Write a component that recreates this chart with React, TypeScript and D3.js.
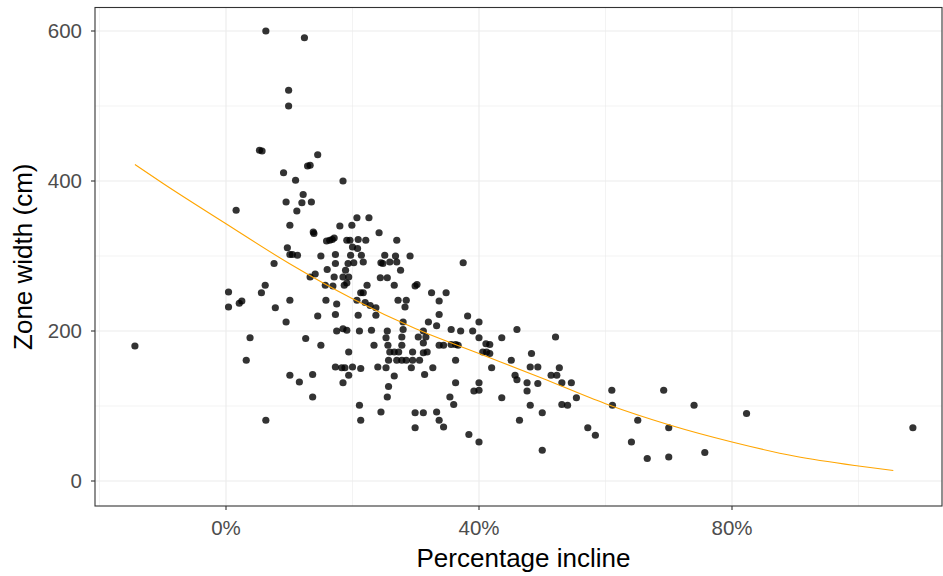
import React, { useEffect, useRef } from "react";
import * as d3 from "d3";

// Percentage incline (%) and zone width (cm)
const incline: number[] = [
  6.3, 12.4, 9.9, 9.9, 5.3, 5.7, 14.5, 12.9, 13.3, 9.1, 11.0, 12.2, 9.5, 12.0, 13.5, 11.2, 1.6, 10.1, 13.8, 13.9,
  15.9, 16.4, 16.8, 17.1, 18.0, 9.7, 18.5, 19.9, 20.7, 22.6, 24.2, 19.1, 19.6, 20.9, 22.1, 27.0, 10.1, 10.5, 11.3, 20.0,
  20.8, 19.7, 21.4, 15.0, 17.3, 20.2, 21.7, 25.1, 24.5, 24.8, 25.9, 27.0, 7.6, 17.3, 19.3, 16.0, 18.9, 13.3, 14.1, 17.1,
  18.5, 19.4, 24.4, 25.5, 15.7, 16.9, 18.7, 19.1, 22.3, 26.6, 6.2, 5.6, 0.4, 0.4, 2.1, 2.5, 10.1, 7.8, 15.8, 17.5,
  21.3, 21.7, 20.7, 22.0, 22.8, 23.7, 27.2, 14.5, 17.3, 20.9, 23.7, 9.5, 17.5, 18.5, 19.1, 21.1, 23.0, 25.5, 3.8, 12.6,
  15.0, 19.4, 23.4, 25.3, 25.6, 25.9, 26.6, 27.3, 3.2, 17.3, 18.3, 18.8, 20.0, 21.3, 24.0, 25.3, 25.7, 27.0, 10.1, 11.6,
  13.7, 19.4, 18.5, 26.6, 25.7, 25.5, 13.7, 21.1, 24.5, 21.3, 6.3, 26.8, 29.1, 27.6, 37.5, 29.9, 30.2, 32.5, 34.8, 28.5,
  33.7, 28.3, 33.7, 38.2, 28.0, 32.0, 40.0, 33.3, 28.0, 30.4, 31.2, 31.6, 35.6, 37.1, 39.0, 46.0, 52.1, 27.8, 27.8, 31.2,
  33.7, 34.4, 35.6, 36.3, 36.7, 40.0, 41.1, 41.7, 43.6, 29.5, 31.2, 31.8, 40.6, 41.2, 41.7, 48.3, 27.8, 28.5, 29.5, 30.6,
  36.3, 45.1, 29.3, 32.7, 42.0, 48.1, 49.3, 52.7, 31.4, 45.7, 46.0, 51.4, 52.3, 36.3, 40.0, 39.2, 40.0, 47.6, 47.6, 49.3,
  53.1, 54.6, 35.4, 36.0, 43.6, 48.1, 53.1, 54.0, 29.9, 31.2, 33.3, 33.7, 34.4, 29.9, 50.0, 46.4, 38.4, 40.0, 50.0, 55.4,
  61.0, 61.1, 57.2, 58.4, 65.1, 64.1, 66.6, 69.2, 70.0, 70.0, 74.0, 75.7, 82.3, 108.6, -14.4,
];
const zoneWidth: number[] = [
  600, 591, 521, 500, 441, 440, 435, 420, 421, 411, 401, 382, 372, 371, 372, 360, 361, 341, 332, 330,
  320, 321, 322, 324, 340, 311, 400, 341, 351, 351, 331, 321, 321, 322, 321, 321, 302, 302, 301, 312,
  310, 301, 301, 300, 302, 291, 292, 301, 291, 290, 292, 292, 290, 290, 290, 282, 281, 272, 276, 272,
  272, 272, 271, 271, 261, 260, 261, 264, 261, 261, 261, 251, 252, 232, 237, 240, 241, 231, 241, 236,
  251, 251, 241, 238, 234, 231, 241, 220, 222, 221, 221, 212, 200, 203, 201, 200, 201, 200, 191, 190,
  181, 172, 181, 191, 181, 172, 172, 172, 161, 152, 151, 151, 152, 150, 152, 151, 161, 161, 141, 132,
  142, 141, 131, 140, 126, 112, 112, 101, 92, 81, 81, 300, 300, 281, 291, 260, 262, 251, 251, 241,
  240, 232, 222, 220, 212, 212, 212, 207, 202, 192, 200, 192, 202, 200, 200, 202, 192, 192, 181, 184,
  181, 181, 182, 182, 181, 191, 183, 182, 191, 172, 171, 172, 172, 172, 170, 170, 161, 161, 161, 161,
  161, 161, 151, 151, 151, 152, 152, 151, 142, 141, 135, 141, 141, 131, 131, 120, 121, 120, 131, 130,
  131, 131, 112, 102, 111, 101, 102, 101, 91, 91, 92, 81, 72, 71, 91, 81, 62, 52, 41, 111,
  121, 101, 71, 61, 81, 52, 30, 121, 71, 32, 101, 38, 90, 71, 180,
];

// Fitted curve
const fitX: number[] = [-14.4, -10, 0, 10, 20, 30, 40, 50, 60, 70, 80, 90, 100, 105.5];
const fitY: number[] = [422, 397, 343, 290, 243, 203, 170, 137, 103, 75, 52, 33, 20, 14];

const xMajor: number[] = [0, 40, 80];
const xMinor: number[] = [-20, 20, 60, 100];
const yMajor: number[] = [0, 200, 400, 600];
const yMinor: number[] = [100, 300, 500];

const W = 943;
const H = 576;
const PL = 95, PR = 942, PT = 7.5, PB = 506;

export default function App() {
  const ref = useRef<SVGSVGElement>(null);
  useEffect(() => {
    const svg = d3.select(ref.current);
    svg.selectAll("*").remove();
    const x = d3.scaleLinear().domain([0, 80]).range([226, 732]);
    const y = d3.scaleLinear().domain([0, 600]).range([481, 31]);
    const font = "'Liberation Sans', Arial, sans-serif";

    svg.append("rect").attr("x", 0).attr("y", 0).attr("width", W).attr("height", H).attr("fill", "#fff");
    const g = svg.append("g");
    // minor grid
    g.selectAll(".xmin").data(xMinor).enter().append("line")
      .attr("x1", (d) => x(d)).attr("x2", (d) => x(d)).attr("y1", PT).attr("y2", PB)
      .attr("stroke", "#ebebeb").attr("stroke-width", 0.6);
    g.selectAll(".ymin").data(yMinor).enter().append("line")
      .attr("y1", (d) => y(d)).attr("y2", (d) => y(d)).attr("x1", PL).attr("x2", PR)
      .attr("stroke", "#ebebeb").attr("stroke-width", 0.6);
    // major grid
    g.selectAll(".xmaj").data(xMajor).enter().append("line")
      .attr("x1", (d) => x(d)).attr("x2", (d) => x(d)).attr("y1", PT).attr("y2", PB)
      .attr("stroke", "#ebebeb").attr("stroke-width", 1.1);
    g.selectAll(".ymaj").data(yMajor).enter().append("line")
      .attr("y1", (d) => y(d)).attr("y2", (d) => y(d)).attr("x1", PL).attr("x2", PR)
      .attr("stroke", "#ebebeb").attr("stroke-width", 1.1);

    // points
    const pts = incline.map((v, i) => [v, zoneWidth[i]] as [number, number]);
    g.selectAll(".pt").data(pts).enter().append("circle")
      .attr("cx", (d) => x(d[0])).attr("cy", (d) => y(d[1])).attr("r", 3.6)
      .attr("fill", "#000").attr("fill-opacity", 0.8);

    // fitted curve
    const fit = fitX.map((v, i) => [v, fitY[i]] as [number, number]);
    const line = d3.line<[number, number]>().x((d) => x(d[0])).y((d) => y(d[1])).curve(d3.curveMonotoneX);
    g.append("path").attr("d", line(fit) as string).attr("fill", "none")
      .attr("stroke", "#FFA500").attr("stroke-width", 1.1);

    // panel border
    g.append("rect").attr("x", PL).attr("y", PT).attr("width", PR - PL).attr("height", PB - PT)
      .attr("fill", "none").attr("stroke", "#333333").attr("stroke-width", 1.1);

    // ticks
    g.selectAll(".xt").data(xMajor).enter().append("line")
      .attr("x1", (d) => x(d)).attr("x2", (d) => x(d)).attr("y1", PB).attr("y2", PB + 4)
      .attr("stroke", "#333333").attr("stroke-width", 1.1);
    g.selectAll(".yt").data(yMajor).enter().append("line")
      .attr("y1", (d) => y(d)).attr("y2", (d) => y(d)).attr("x1", PL - 4).attr("x2", PL)
      .attr("stroke", "#333333").attr("stroke-width", 1.1);

    g.selectAll(".xl").data(xMajor).enter().append("text")
      .attr("x", (d) => x(d)).attr("y", 535).attr("text-anchor", "middle")
      .attr("font-family", font).attr("font-size", 20.5).attr("fill", "#4d4d4d")
      .text((d) => `${d}%`);
    g.selectAll(".yl").data(yMajor).enter().append("text")
      .attr("x", PL - 13).attr("y", (d) => y(d)).attr("dy", "0.36em").attr("text-anchor", "end")
      .attr("font-family", font).attr("font-size", 20.5).attr("fill", "#4d4d4d")
      .text((d) => `${d}`);

    g.append("text").attr("x", (PL + PR) / 2 + 5).attr("y", 567).attr("text-anchor", "middle")
      .attr("font-family", font).attr("font-size", 26).attr("fill", "#000").text("Percentage incline");
    g.append("text").attr("transform", `translate(32,${(PT + PB) / 2}) rotate(-90)`).attr("text-anchor", "middle")
      .attr("font-family", font).attr("font-size", 26).attr("fill", "#000").text("Zone width (cm)");
  }, []);
  return (
    <svg ref={ref} width={W} height={H} style={{ position: "absolute", left: 0, top: 0, display: "block" }} />
  );
}
